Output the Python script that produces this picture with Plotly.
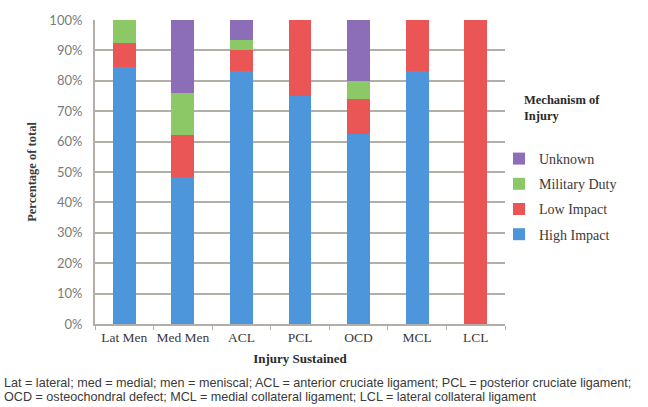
import plotly.graph_objects as go

# Share of each injury type by mechanism (percent of total)
categories = ["Lat Men", "Med Men", "ACL", "PCL", "OCD", "MCL", "LCL"]
high_impact = [84.6, 48.3, 83.3, 75.0, 62.5, 83.3, 0.0]
low_impact = [7.7, 13.8, 6.7, 25.0, 11.5, 16.7, 100.0]
military_duty = [7.7, 13.8, 3.3, 0.0, 6.0, 0.0, 0.0]
unknown = [0.0, 24.1, 6.7, 0.0, 20.0, 0.0, 0.0]

# stacked bottom to top; legend lists them top to bottom
series = [
    ("High Impact", high_impact, "#4e96dc", 4),
    ("Low Impact", low_impact, "#ea5656", 3),
    ("Military Duty", military_duty, "#8cc865", 2),
    ("Unknown", unknown, "#8c6db8", 1),
]

y_ticks = list(range(0, 101, 10))
y_ticktext = [f"{v}%" for v in y_ticks]

footnote = [
    "Lat = lateral; med = medial; men = meniscal; ACL = anterior cruciate ligament; "
    "PCL = posterior cruciate ligament;",
    "OCD = osteochondral defect; MCL = medial collateral ligament; LCL = lateral collateral ligament",
]

W, H = 648, 407
L, R, T, B = 95, 143, 20, 83
PW, PH = W - L - R, H - T - B


def px_x(x):
    return (x - L) / PW


def px_y(y):
    return (H - B - y) / PH


SERIF = "Liberation Serif"

fig = go.Figure()
for name, vals, color, rank in series:
    fig.add_trace(go.Bar(
        name=name, x=categories, y=vals,
        marker=dict(color=color, line=dict(width=0)),
        legendgroup=name, legendrank=rank,
    ))

fig.update_layout(
    width=W, height=H,
    margin=dict(l=L, r=R, t=T, b=B),
    paper_bgcolor="white", plot_bgcolor="white",
    barmode="stack", bargap=0.61,
    showlegend=True,
    legend=dict(
        x=px_x(499), xanchor="left", y=px_y(143), yanchor="top",
        traceorder="grouped", tracegroupgap=4,
        font=dict(family=SERIF, size=14, color="#3a3a3a"),
        bgcolor="rgba(0,0,0,0)",
    ),
    font=dict(family=SERIF),
)

fig.update_yaxes(
    range=[0, 100], tickvals=y_ticks, ticktext=y_ticktext,
    showgrid=True, gridcolor="#b4aea8", gridwidth=2,
    showline=True, linecolor="#b4aea8", linewidth=2,
    zeroline=False, ticks="", ticklabelstandoff=8,
    tickfont=dict(family="Lato", size=13, color="#7a7a7a"),
    title=dict(text="<b>Percentage of total</b>", standoff=10,
               font=dict(family=SERIF, size=12.5, color="#3a3a3a")),
)

fig.update_xaxes(
    showline=True, linecolor="#b4aea8", linewidth=2,
    ticks="outside", tickson="boundaries", ticklen=4, tickcolor="#b4aea8",
    tickangle=0,
    tickfont=dict(family=SERIF, size=13.5, color="#3a3a3a"),
    title=dict(text="<b>Injury Sustained</b>", standoff=10,
               font=dict(family=SERIF, size=13, color="#2a2a2a")),
)

# Legend heading
fig.add_annotation(
    x=px_x(522), y=px_y(91), xref="paper", yref="paper",
    xanchor="left", yanchor="top", align="left", showarrow=False,
    text="<b>Mechanism of<br>Injury</b>",
    font=dict(family=SERIF, size=12.5, color="#2a2a2a"),
)

# Abbreviation key beneath the chart
for i, line in enumerate(footnote):
    fig.add_annotation(
        x=px_x(2), y=px_y(383 + 14 * i), xref="paper", yref="paper",
        xanchor="left", yanchor="middle", showarrow=False,
        text=line, font=dict(family="Liberation Sans", size=12.6, color="#3a3a3a"),
    )

fig.write_html("out.html")
